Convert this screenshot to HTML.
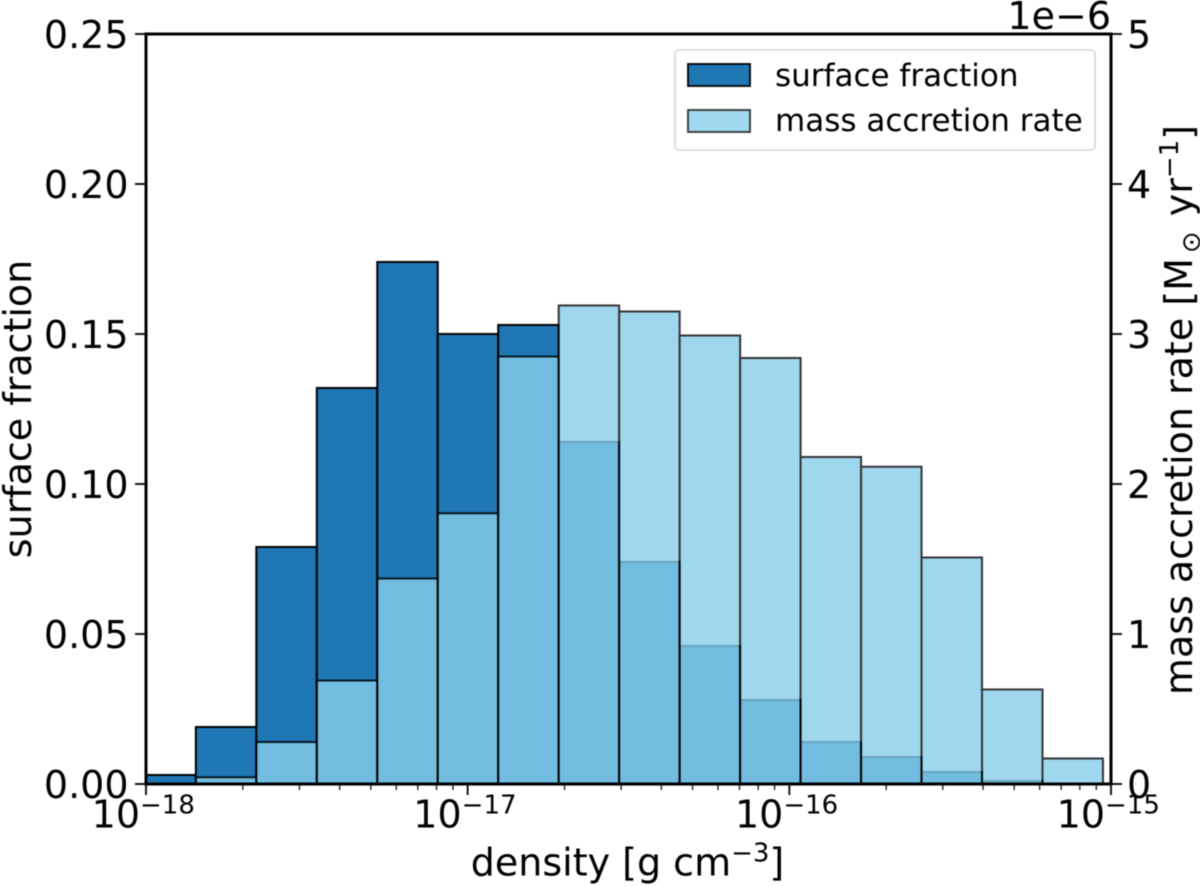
<!DOCTYPE html>
<html lang="en">
<head>
<meta charset="utf-8">
<title>Surface fraction and mass accretion rate histogram</title>
<style>
html,body{margin:0;padding:0;background:#fff;}
svg{display:block;font-family:"DejaVu Sans","Liberation Sans",sans-serif;fill:#000;filter:blur(0.4px);}
</style>
</head>
<body>
<svg id="chart" xmlns="http://www.w3.org/2000/svg" width="1200" height="886" viewBox="0 0 1200 886"></svg>
<script>
const binEdgesLog = [-18.033,-17.845,-17.657,-17.469,-17.281,-17.093,-16.905,-16.717,-16.529,-16.341,-16.153,-15.965,-15.777,-15.589,-15.401,-15.213,-15.025];
const surfaceFraction = [0.003,0.019,0.079,0.132,0.174,0.150,0.153,0.114,0.074,0.046,0.028,0.014,0.009,0.004,0.001,0];
const massAccretion = [0,0.045,0.28,0.69,1.37,1.805,2.85,3.19,3.15,2.99,2.84,2.18,2.115,1.51,0.63,0.17];
const leftTicks = [0,0.05,0.10,0.15,0.20,0.25];
const leftTickLabels = ["0.00","0.05","0.10","0.15","0.20","0.25"];
const rightTicks = [0,1,2,3,4,5];
const xDecades = [-18,-17,-16,-15];
const xDecadeLabels = ["\u221218","\u221217","\u221216","\u221215"];
const minorMultipliers = [2,3,4,5,6,7,8,9];

const plotL = 146, plotR = 1111, plotT = 34, plotB = 784;
const svg = document.getElementById('chart');
const NS = 'http://www.w3.org/2000/svg';
function xPos(logV){ return plotL + (logV + 18) / 3 * (plotR - plotL); }
function yLeft(v){ return plotB - v / 0.25 * (plotB - plotT); }
function yRight(v){ return plotB - v / 5 * (plotB - plotT); }
function make(tag, attrs, parent){
  const el = document.createElementNS(NS, tag);
  for (const k in attrs) el.setAttribute(k, attrs[k]);
  (parent || svg).appendChild(el);
  return el;
}
function drawBars(values, yFn, attrs, name){
  const g = make('g', attrs);
  
  
  values.forEach(function(v, i){
    if (v <= 0) return;
    const x0 = Math.max(xPos(binEdgesLog[i]), plotL);
    const x1 = xPos(binEdgesLog[i + 1]);
    const y = yFn(v);
    const r = make('rect', {x: x0, y: y, width: x1 - x0, height: plotB - y}, g);
    
    
  });
}
function addTick(x1, y1, x2, y2, w, name){
  const l = make('line', {x1: x1, y1: y1, x2: x2, y2: y2, stroke: '#000', 'stroke-width': w});
  
  
}
function addText(str, attrs, name){
  const t = make('text', attrs);
  t.textContent = str;
  
  
  return t;
}

drawBars(surfaceFraction, yLeft, {fill: '#1f77b4', stroke: '#000', 'stroke-width': 2}, 'surface-fraction');
drawBars(massAccretion, yRight, {fill: '#87ceeb', stroke: '#000', 'stroke-width': 2, opacity: 0.8}, 'mass-accretion');

/* left y axis */
leftTicks.forEach(function(v, i){
  const y = yLeft(v);
  addTick(plotL - 11, y, plotL, y, 1.8, 'left-y-tick');
  addText(leftTickLabels[i], {x: 128.5, y: y + 14, 'font-size': 38, 'text-anchor': 'end'}, 'left-y-tick-label');
});
/* right y axis */
rightTicks.forEach(function(v){
  const y = yRight(v);
  addTick(plotR, y, plotR + 11, y, 1.8, 'right-y-tick');
  addText(String(v), {x: 1127, y: y + 14, 'font-size': 38}, 'right-y-tick-label');
});
/* x axis */
xDecades.forEach(function(d, i){
  const x = xPos(d);
  addTick(x, plotB, x, plotB + 11, 1.8, 'x-major-tick');
  const g = make('g', {});
  
  
  const base = make('text', {x: x - 6, y: 827.5, 'font-size': 38, 'text-anchor': 'end'}, g);
  base.textContent = '10';
  const exp = make('text', {x: x - 6, y: 813.5, 'font-size': 26}, g);
  exp.textContent = xDecadeLabels[i];
  if (i < xDecades.length - 1) {
    minorMultipliers.forEach(function(m){
      const mx = xPos(d + Math.log10(m));
      addTick(mx, plotB, mx, plotB + 6, 1.2, 'x-minor-tick');
    });
  }
});
/* frame */
const frame = make('rect', {x: plotL, y: plotT, width: plotR - plotL, height: plotB - plotT, fill: 'none', stroke: '#000', 'stroke-width': 3});



/* titles */
addText('1e\u22126', {x: 1111, y: 29, 'font-size': 38, 'text-anchor': 'end'}, 'offset-label');
const xt = addText('density [g cm', {x: 627.5, y: 875.5, 'font-size': 38, 'text-anchor': 'middle'}, 'x-axis-title');
const xs = make('tspan', {'font-size': 26, dy: -14}, xt); xs.textContent = '\u22123';
const xc = make('tspan', {dy: 14}, xt); xc.textContent = ']';
addText('surface fraction', {x: 0, y: 0, 'font-size': 38, 'text-anchor': 'middle', transform: 'translate(31,409) rotate(-90)'}, 'left-y-axis-title');
const rt = addText('mass accretion rate [M', {x: 0, y: 0, 'font-size': 38, 'text-anchor': 'middle', transform: 'translate(1192,410) rotate(-90)'}, 'right-y-axis-title');
const r1 = make('tspan', {'font-size': 26, dy: 8, dx: 5}, rt); r1.textContent = '\u2299';
const r2 = make('tspan', {dy: -8, dx: 3}, rt); r2.textContent = ' yr';
const r3 = make('tspan', {'font-size': 26, dy: -14}, rt); r3.textContent = '\u22121';
const r4 = make('tspan', {dy: 14}, rt); r4.textContent = ']';

/* legend */
const lg = make('g', {});


const box = make('rect', {x: 675, y: 50, width: 420, height: 100, rx: 4, fill: '#fff', 'fill-opacity': 0.8, stroke: '#d6d6d6', 'stroke-width': 1.6}, lg);


const h1 = make('rect', {x: 688, y: 64, width: 62, height: 22, fill: '#1f77b4', stroke: '#000', 'stroke-width': 1.8}, lg);


const h2 = make('rect', {x: 688, y: 110, width: 62, height: 22, fill: '#87ceeb', stroke: '#000', 'stroke-width': 1.8, opacity: 0.8}, lg);


addText('surface fraction', {x: 775, y: 86, 'font-size': 31}, 'legend-label-surface-fraction');
addText('mass accretion rate', {x: 775, y: 131, 'font-size': 31}, 'legend-label-mass-accretion');
</script>
</body>
</html>
